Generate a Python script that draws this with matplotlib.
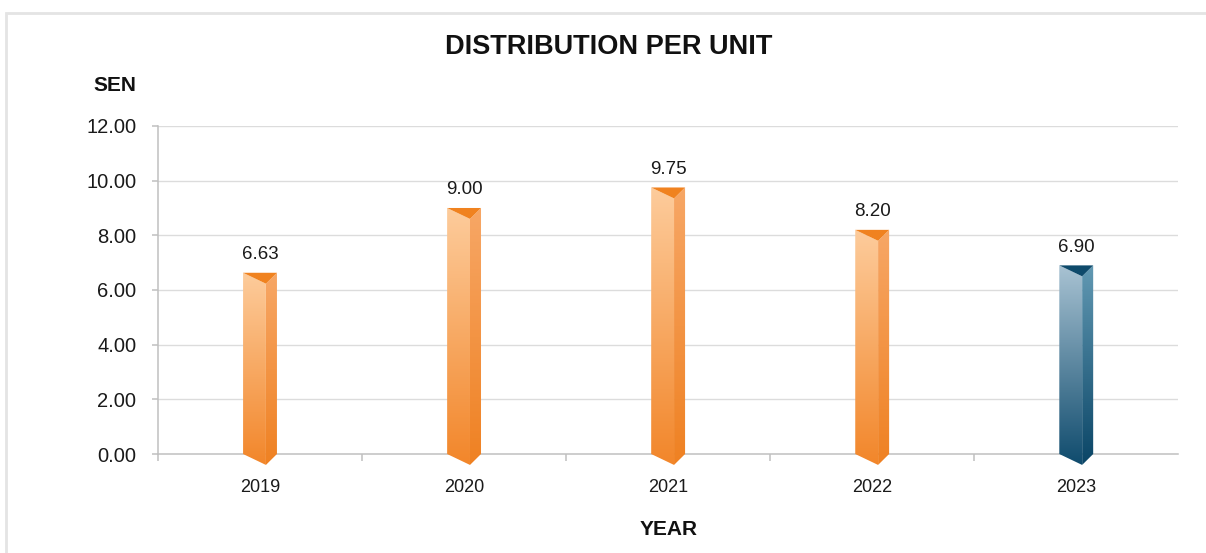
import numpy as np
import matplotlib.pyplot as plt
from matplotlib.colors import to_rgb
from matplotlib.patches import Polygon, Rectangle

plt.rcParams["font.family"] = ["Liberation Sans", "DejaVu Sans"]

years = ["2019", "2020", "2021", "2022", "2023"]
dpu = [6.63, 9.00, 9.75, 8.20, 6.90]
y_ticks = [0, 2, 4, 6, 8, 10, 12]

# palette: (front top, front bottom, side top, side bottom, top cap)
ORANGE = ("#fdcc9c", "#f2862a", "#f7a766", "#ef8122", "#f0821f")
BLUE = ("#a9c3d3", "#0f4b6d", "#6299b3", "#0a4566", "#0e4a6b")

HALF = 0.083    # half width of the prism
EDGE = 0.029    # x offset of the front/side edge
DROP = 0.40     # depth of the top and bottom points


def gradient_fill(ax, poly, top, bottom, x0, x1, y0, y1):
    c0, c1 = np.array(to_rgb(bottom)), np.array(to_rgb(top))
    t = np.linspace(0, 1, 256)[:, None]
    img = (c0 + (c1 - c0) * t)[:, None, :]
    im = ax.imshow(img, extent=(x0, x1, y0, y1), origin="lower",
                   aspect="auto", interpolation="bicubic", zorder=3)
    ax.add_patch(poly)
    im.set_clip_path(poly)


def draw_prism(ax, x, v, pal):
    xl, xm, xr = x - HALF, x + EDGE, x + HALF
    front = Polygon([(xl, v), (xm, v - DROP), (xm, -DROP), (xl, 0)],
                    closed=True, fc="none", ec="none")
    side = Polygon([(xm, v - DROP), (xr, v), (xr, 0), (xm, -DROP)],
                   closed=True, fc="none", ec="none")
    gradient_fill(ax, front, pal[0], pal[1], xl, xm, -DROP, v)
    gradient_fill(ax, side, pal[2], pal[3], xm, xr, -DROP, v)
    cap = Polygon([(xl, v), (xr, v), (xm, v - DROP)], closed=True,
                  fc=pal[4], ec="none", zorder=4)
    ax.add_patch(cap)


fig = plt.figure(figsize=(12.06, 5.53), dpi=100)
ax = fig.add_axes([0.131, 0.1543, 0.846, 0.6179])

x = np.arange(len(years))
for i, v in enumerate(dpu):
    pal = BLUE if years[i] == years[-1] else ORANGE
    draw_prism(ax, x[i], v, pal)
    ax.annotate(f"{v:.2f}", (x[i], v), xytext=(0, 7), textcoords="offset points",
                ha="center", va="bottom", fontsize=13.5, color="#1a1a1a")

ax.set_xlim(-0.5, len(years) - 0.5)
ax.set_ylim(-0.5, 12)

ax.set_yticks(y_ticks)
ax.set_yticklabels([f"{t:.2f}" for t in y_ticks])
ax.set_xticks(x)
ax.set_xticklabels(years)
# category dividers below the axis line (none at the far right)
ax.set_xticks(np.arange(-0.5, len(years) - 1), minor=True)

for s in ["top", "right"]:
    ax.spines[s].set_visible(False)
ax.spines["bottom"].set_position(("data", 0))
ax.spines["left"].set_bounds(0, 12)
for s in ["bottom", "left"]:
    ax.spines[s].set_color("#c0c0c0")
    ax.spines[s].set_linewidth(1.1)

ax.tick_params(axis="x", which="major", length=0, pad=18, labelsize=13,
               labelcolor="#1a1a1a")
ax.tick_params(axis="x", which="minor", length=4.8, color="#c0c0c0", width=1.1)
ax.tick_params(axis="y", length=4.5, color="#c0c0c0", width=1.1, pad=11,
               labelsize=14.5, labelcolor="#1a1a1a")

for t in y_ticks[1:]:
    ax.axhline(t, color="#dcdcdc", lw=1.0, zorder=1)

fig.text(0.505, 0.915, "DISTRIBUTION PER UNIT", ha="center", va="center",
         fontsize=19.5, fontweight="bold", color="#111111")
fig.text(0.095, 0.846, "SEN", ha="center", va="center",
         fontsize=15, fontweight="bold", color="#111111")
fig.text(0.554, 0.042, "YEAR", ha="center", va="center",
         fontsize=15, fontweight="bold", color="#111111")

fig.patches.append(Rectangle((0.005, -0.05), 1.1, 0.9765 + 0.05,
                             transform=fig.transFigure, fill=False,
                             ec="#e4e4e4", lw=2.0))

fig.savefig("out.png", dpi=100)
